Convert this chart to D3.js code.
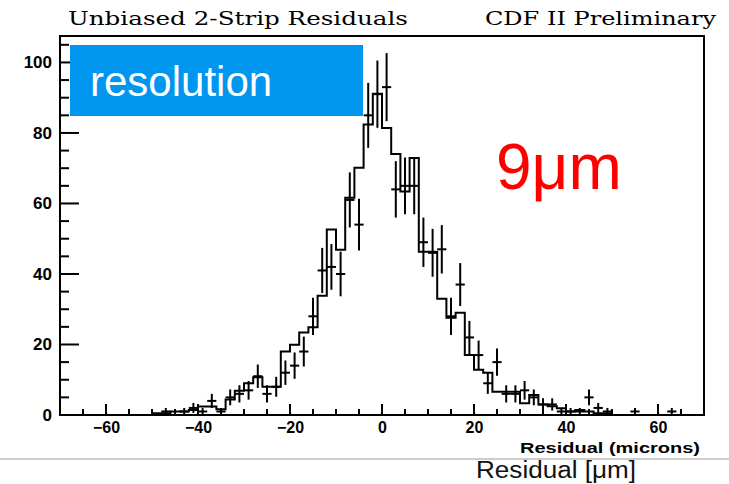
<!DOCTYPE html>
<html>
<head>
<meta charset="utf-8">
<script src="https://cdn.jsdelivr.net/npm/d3@7"></script>
<style>
  html, body { margin: 0; padding: 0; background: #fff; }
  svg { display: block; }
</style>
</head>
<body>
<svg id="chart" width="729" height="484"></svg>
<script>
// Residual histogram: 2-micron bins from -70 to 70
const binEdges = d3.range(-70, 72, 2);
const binCenters = d3.range(-69, 70, 2);

// Expected shape (solid step line), one value per bin
const expectedCounts = [
  0, 0, 0, 0, 0, 0, 0, 0, 0, 0,          // -69 .. -51
  0.5, 0.5, 1, 1, 1.4, 2.4, 2.4, 1.6,     // -49 .. -35
  4.4, 6.9, 9, 10.7, 8, 8,                // -33 .. -23
  18, 19.9, 23.4, 24.9, 33.8, 52.6,       // -21 .. -11
  46.9, 61.6, 70.1, 82.4, 91.1,           // -9 .. -1
  81.4, 74, 63.4, 72.9, 46.3, 46.3,       // 1 .. 11
  33, 27.6, 29, 17, 12.8, 12,             // 13 .. 23
  6.6, 6.6, 6.6, 3.3, 5.7, 3, 2.5, 1.9,   // 25 .. 39
  1, 1.4, 1, 0.5, 0.5,                    // 41 .. 49
  0, 0, 0, 0, 0, 0, 0, 0, 0, 0            // 51 .. 69
];

// Measured entries per bin (crosses with sqrt(N) errors)
const measuredCounts = [
  0, 0, 0, 0, 0, 0, 0, 0, 0, 0,           // -69 .. -51
  0, 1, 0, 1, 2, 1, 4, 1,                 // -49 .. -35
  5, 6, 7, 11, 6, 8,                      // -33 .. -23
  12, 14, 18, 28, 41, 42,                 // -21 .. -11
  40, 61, 54, 85, 91,                     // -9 .. -1
  93, 64, 65, 65, 49, 46,                 // 1 .. 11
  47, 28, 37, 22, 17, 9,                  // 13 .. 23
  15, 6, 6, 7, 5, 3, 3, 1,                // 25 .. 39
  1, 1, 5, 2, 1,                          // 41 .. 49
  0, 0, 1, 0, 0, 0, 1, 0, 0, 0            // 51 .. 69
];

const xTickValues = [-60, -40, -20, 0, 20, 40, 60];
const yTickValues = [0, 20, 40, 60, 80, 100];

const svg = d3.select("#chart");

const frame = { left: 60, right: 704, top: 36, bottom: 415 };

const x = d3.scaleLinear().domain([-70, 70]).range([frame.left, frame.right]);
const y = d3.scaleLinear().domain([0, 107.5]).range([frame.bottom, frame.top]);

const ink = "#000";
const sans = "'Liberation Sans', Arial, sans-serif";

// Header titles
svg.append("text")
  .attr("x", 68).attr("y", 25)
  .attr("font-family", "'DejaVu Serif', serif")
  .attr("font-size", 19)
  .attr("textLength", 340).attr("lengthAdjust", "spacingAndGlyphs")
  .text("Unbiased 2-Strip Residuals");

svg.append("text")
  .attr("x", 485).attr("y", 25)
  .attr("font-family", "'DejaVu Serif', serif")
  .attr("font-size", 19)
  .attr("textLength", 231).attr("lengthAdjust", "spacingAndGlyphs")
  .text("CDF II Preliminary");

// Axes
const xMinor = d3.range(-65, 70, 5).filter(v => v % 20 !== 0);
const yMinor = d3.range(5, 107, 5).filter(v => v % 20 !== 0);

const xAxis = d3.axisBottom(x).tickValues(xTickValues).tickSize(0).tickPadding(7).tickFormat(d3.format("d"));
const gx = svg.append("g").attr("transform", `translate(0,${frame.bottom})`).call(xAxis);
gx.select(".domain").remove();
gx.selectAll("text")
  .attr("font-family", sans)
  .attr("font-weight", "bold").attr("font-size", 16).attr("fill", ink);

const yAxis = d3.axisLeft(y).tickValues(yTickValues).tickSize(0).tickPadding(8).tickFormat(d3.format("d"));
const gy = svg.append("g").attr("transform", `translate(${frame.left},0)`).call(yAxis);
gy.select(".domain").remove();
gy.selectAll("text")
  .attr("font-family", sans)
  .attr("font-weight", "bold").attr("font-size", 17).attr("fill", ink);

// Tick marks drawn inward from the frame
const ticks = svg.append("g").attr("stroke", ink).attr("stroke-width", 2);
xTickValues.forEach(v => ticks.append("line")
  .attr("x1", x(v)).attr("x2", x(v)).attr("y1", frame.bottom).attr("y2", frame.bottom - 11));
xMinor.forEach(v => ticks.append("line")
  .attr("x1", x(v)).attr("x2", x(v)).attr("y1", frame.bottom).attr("y2", frame.bottom - 6));
yTickValues.forEach(v => ticks.append("line")
  .attr("x1", frame.left).attr("x2", frame.left + 19).attr("y1", y(v)).attr("y2", y(v)));
yMinor.forEach(v => ticks.append("line")
  .attr("x1", frame.left).attr("x2", frame.left + 9).attr("y1", y(v)).attr("y2", y(v)));

// Step outline of the expected distribution
const stepPoints = binEdges.map((e, i) => [e, expectedCounts[Math.min(i, expectedCounts.length - 1)]]);
svg.append("path")
  .attr("d", d3.line().x(d => x(d[0])).y(d => y(d[1])).curve(d3.curveStepAfter)(stepPoints))
  .attr("fill", "none").attr("stroke", ink).attr("stroke-width", 2);

// Measured points with statistical errors
const pts = binCenters.map((c, i) => ({ c, n: measuredCounts[i] })).filter(d => d.n > 0);
const cross = svg.append("g").attr("stroke", ink).attr("stroke-width", 2);
cross.selectAll("line.h").data(pts).join("line").attr("class", "h")
  .attr("x1", d => x(d.c - 1)).attr("x2", d => x(d.c + 1))
  .attr("y1", d => y(d.n)).attr("y2", d => y(d.n));
cross.selectAll("line.v").data(pts).join("line").attr("class", "v")
  .attr("x1", d => x(d.c)).attr("x2", d => x(d.c))
  .attr("y1", d => y(d.n + Math.sqrt(d.n))).attr("y2", d => y(Math.max(0, d.n - Math.sqrt(d.n))));

// Frame
svg.append("rect")
  .attr("x", frame.left).attr("y", frame.top)
  .attr("width", frame.right - frame.left).attr("height", frame.bottom - frame.top)
  .attr("fill", "none").attr("stroke", ink).attr("stroke-width", 2);

// Axis title
svg.append("text")
  .attr("x", 700).attr("y", 453).attr("text-anchor", "end")
  .attr("font-family", sans)
  .attr("font-weight", "bold").attr("font-size", 15)
  .attr("textLength", 180).attr("lengthAdjust", "spacingAndGlyphs")
  .text("Residual (microns)");

// Annotation box
svg.append("rect")
  .attr("x", 70).attr("y", 45).attr("width", 293).attr("height", 71)
  .attr("fill", "#0096f0");
svg.append("text")
  .attr("x", 90).attr("y", 96)
  .attr("font-family", sans)
  .attr("font-size", 42).attr("fill", "#fff")
  .text("resolution");

svg.append("text")
  .attr("x", 496).attr("y", 189)
  .attr("font-family", sans)
  .attr("font-size", 64).attr("fill", "#ff0000")
  .text("9μm");

// Separator and caption
svg.append("line")
  .attr("x1", 0).attr("x2", 729).attr("y1", 459).attr("y2", 459)
  .attr("stroke", "#bdbdbd").attr("stroke-width", 1.5);
svg.append("text")
  .attr("x", 476).attr("y", 478)
  .attr("font-family", sans)
  .attr("font-size", 23).attr("fill", "#111")
  .attr("textLength", 160).attr("lengthAdjust", "spacingAndGlyphs")
  .text("Residual [μm]");
</script>
</body>
</html>
